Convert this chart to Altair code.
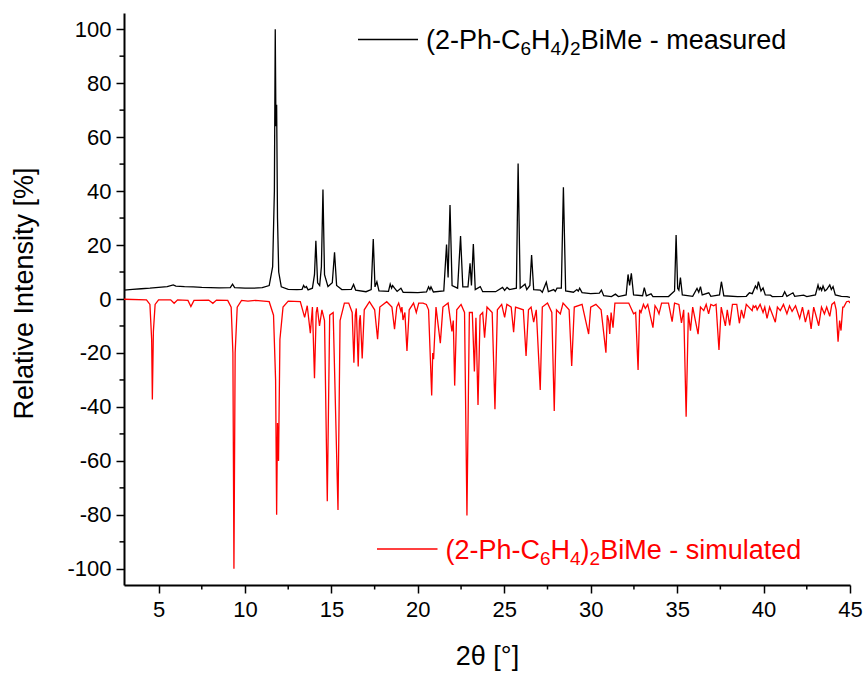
import altair as alt
import pandas as pd

# ---------------- data ----------------
meas_x = [3.0, 3.5, 4.0, 4.5, 5.0, 5.5, 5.85, 6.0, 6.5, 7.0, 7.5, 8.0, 8.5, 9.15, 9.28, 9.4,
          10.0, 10.5, 11.0, 11.4, 11.6, 11.7, 11.75, 11.79, 11.83, 11.88, 11.95, 12.1, 12.5,
          13.0, 13.3, 13.39, 13.47, 13.55, 13.65, 13.9, 14.02, 14.1, 14.2, 14.32, 14.42, 14.51,
          14.6, 14.8, 15.05, 15.18, 15.3, 15.6, 16.15, 16.28, 16.4, 17.0, 17.3, 17.42, 17.52,
          17.63, 17.75, 18.3, 18.4, 18.48, 18.54, 18.65, 18.8, 19.02, 19.15, 20.0, 20.5, 20.62,
          20.7, 20.76, 20.9, 21.5, 21.66, 21.75, 21.86, 21.98, 22.3, 22.47, 22.6, 22.9, 23.02,
          23.1, 23.21, 23.32, 23.61, 23.75, 24.5, 24.9, 25.02, 25.16, 25.3, 25.7, 25.8, 25.92,
          26.2, 26.3, 26.48, 26.58, 26.7, 27.08, 27.2, 27.43, 27.55, 27.86, 27.95, 28.05, 28.3,
          28.42, 28.55, 29.0, 29.2, 29.28, 29.36, 29.5, 30.0, 30.5, 30.62, 30.75, 31.2, 31.43,
          31.6, 32.05, 32.16, 32.25, 32.35, 32.48, 33.0, 33.1, 33.22, 33.49, 33.6, 34.5, 34.85,
          34.94, 35.03, 35.1, 35.19, 35.3, 35.9, 36.15, 36.25, 36.35, 36.45, 36.83, 36.95, 37.45,
          37.56, 37.7, 38.5, 39.0, 39.18, 39.35, 39.53, 39.62, 39.7, 39.85, 39.97, 40.1, 40.4,
          40.5, 41.1, 41.22, 41.35, 41.7, 41.8, 42.32, 42.5, 43.0, 43.15, 43.22, 43.29, 43.36,
          43.44, 43.55, 43.65, 43.83, 43.92, 44.02, 44.15, 44.5, 44.83, 45.0]
meas_y = [3.3, 3.6, 3.8, 4.0, 4.3, 4.6, 5.2, 4.8, 4.6, 4.5, 4.3, 4.2, 4.1, 4.2, 5.5, 4.2,
          4.0, 4.0, 4.2, 5.0, 12, 40, 100, 64, 72, 30, 10, 4.5, 3.6,
          3.5, 3.6, 5.0, 4.2, 4.6, 3.4, 4.0, 9, 21.6, 6, 5, 12, 40.6,
          9, 4.6, 6, 17.3, 5, 3.5, 3.6, 5.4, 3.3, 2.7, 3.5, 22.2, 4.5,
          6.4, 3.0, 2.8, 5.5, 4.0, 5.0, 4.0, 2.8, 4.0, 2.5, 2.4, 2.6, 4.5,
          3.5, 4.5, 2.6, 3.0, 20.2, 8, 34.8, 5, 4, 23.3, 4.5, 4.5, 13.2,
          5, 20.4, 3.5, 4.6, 2.7, 2.7, 4.3, 3.2, 4.3, 3.5, 4, 50.2, 4,
          5.5, 3.5, 5, 16.3, 3.5, 3.3, 2.5, 6.2, 2.7, 3.5, 2.8, 4, 4,
          41.4, 3, 2.5, 3.5, 2.9, 4, 2.4, 2.0, 2.2, 3.3, 1.2, 0.9, 1.8,
          0.9, 1.5, 9.1, 5, 9.5, 1.5, 1.2, 4.2, 1.2, 1.9, 0.9, 0.9, 3,
          23.7, 4, 3.3, 7.9, 1.5, 1.0, 3.9, 2.5, 4.6, 1.5, 2.3, 1.0, 1.5,
          6.4, 1.2, 0.9, 1.0, 2.3, 2.0, 4.8, 3.8, 6.4, 3, 4.1, 1.5, 1.4,
          0.9, 1.0, 2.7, 1.0, 2.3, 1.0, 1.4, 0.9, 1.5, 5.2, 3.5, 4.2, 3.2,
          4.8, 3, 3.5, 5.2, 3.5, 4.6, 1.5, 1.0, 0.9, 0.6]

sim_x = [3.0, 4.3, 4.5, 4.6, 4.64, 4.7, 4.8, 5.0, 5.7, 5.9, 6.1, 6.7, 6.87, 7.05, 7.9, 8.14,
         8.35, 9.0, 9.2, 9.3, 9.36, 9.43, 9.55, 9.8, 10.17, 10.6, 11.4, 11.65, 11.77, 11.83,
         11.88, 11.94, 12.02, 12.2, 12.5, 13.2, 13.45, 13.6, 13.78, 13.9, 14.02, 14.12, 14.18,
         14.31, 14.45, 14.6, 14.76, 14.9, 15.1, 15.38, 15.5, 15.75, 16.0, 16.2, 16.3, 16.38,
         16.44, 16.55, 16.62, 16.67, 16.78, 16.9, 17.2, 17.5, 17.67, 17.8, 18.2, 18.5, 18.65,
         18.78, 18.89, 19.02, 19.08, 19.14, 19.25, 19.37, 19.5, 19.75, 19.91, 20.05, 20.3,
         20.49, 20.62, 20.8, 20.86, 20.91, 21.05, 21.3, 21.45, 21.75, 21.97, 22.05, 22.13,
         22.25, 22.5, 22.7, 22.84, 22.98, 23.15, 23.27, 23.36, 23.48, 23.6, 23.75, 23.86, 24.0,
         24.3, 24.46, 24.6, 24.85, 25.02, 25.15, 25.4, 25.54, 25.65, 26.1, 26.26, 26.4, 26.55,
         26.7, 26.85, 27.08, 27.2, 27.5, 27.75, 27.89, 28.02, 28.24, 28.4, 28.75, 28.9, 29.05,
         29.5, 29.88, 30.0, 30.3, 30.6, 30.88, 30.96, 31.04, 31.1, 31.18, 31.29, 31.4, 32.2,
         32.48, 32.6, 32.74, 32.83, 32.91, 33.05, 33.16, 33.3, 33.6, 33.72, 33.84, 33.95, 34.1,
         34.5, 34.71, 34.85, 35.1, 35.25, 35.38, 35.52, 35.65, 35.77, 35.9, 36.21, 36.35, 36.54,
         36.68, 36.82, 36.95, 37.11, 37.25, 37.42, 37.55, 37.79, 37.9, 38.04, 38.2, 38.45, 38.6,
         38.72, 38.85, 39.0, 39.34, 39.4, 39.47, 39.55, 39.63, 39.8, 39.97, 40.07, 40.2, 40.35,
         40.68, 40.8, 40.97, 41.15, 41.35, 41.5, 41.65, 41.85, 42.09, 42.25, 42.42, 42.6, 42.75,
         42.9, 43.19, 43.35, 43.52, 43.65, 43.83, 43.95, 44.1, 44.2, 44.31, 44.4, 44.48, 44.58,
         44.64, 44.8, 44.93, 45.0]
sim_y = [-0.1, -0.3, -2, -15, -37.2, -12, -2, -0.3, -0.3, -1.6, -0.3, -0.5, -2.8, -0.5, -0.4, -1.6,
         -0.4, -0.5, -3, -20, -100, -20, -3, -0.5, -0.8, -0.5, -1, -6, -30, -80,
         -46, -60, -15, -3, -0.8, -1, -6.8, -2.5, -12.7, -3, -29.4, -5, -3,
         -10, -4, -8, -75, -6, -5, -78.2, -8, -1.5, -1.5, -5, -23.6, -6,
         -3.5, -25, -8, -6, -22, -4, -1, -4, -14.9, -3, -1, -3, -11.2,
         -3, -1.5, -4.5, -3, -7.8, -5, -19.3, -4, -1.5, -5, -1.5, -1.5,
         -2, -4, -35.8, -20, -22.3, -3, -16.4, -3, -1.5, -12, -8, -32.1,
         -4, -2, -5, -80.2, -5, -5, -26.9, -7, -39.3, -6, -5, -14.3, -3,
         -5, -40.9, -4, -2, -6.8, -2, -3, -12.3, -3, -4, -21.1, -4, -3,
         -8.6, -4, -33.7, -3, -1.5, -5, -41.5, -4, -5.5, -1.5, -4, -24.8, -3,
         -2, -13, -3, -2, -4, -19.9, -6, -8, -13, -5, -10.6, -1.5, -1.5,
         -5.5, -5, -26.3, -4, -5, -2, -3.5, -2, -10.6, -2.5, -3.7, -5.5, -1.5,
         -1.5, -8.4, -1.5, -2, -8.9, -4, -43.6, -5, -11.7, -3, -13, -3, -4.3,
         -2, -5.5, -2, -2.5, -2, -18.9, -3, -10, -4, -9.8, -2, -2, -9,
         -4, -7.2, -2, -4.3, -2.5, -3.1, -2.5, -4, -2, -5, -3, -7.2, -3,
         -8.6, -3, -4.3, -2, -5.5, -2.5, -4.6, -2.5, -7.2, -3, -8.6, -4, -11.1,
         -3, -9.9, -3, -5.5, -3, -6.4, -2, -1.2, -4, -15.8, -8, -11.7, -3,
         -3, -1, -0.8, -1.5]

x_ticks = [5, 10, 15, 20, 25, 30, 35, 40, 45]
x_minor = [7.5, 12.5, 17.5, 22.5, 27.5, 32.5, 37.5, 42.5]
y_ticks = [-100, -80, -60, -40, -20, 0, 20, 40, 60, 80, 100]
y_minor = [-90, -70, -50, -30, -10, 10, 30, 50, 70, 90]

legend_measured = "measured"
legend_simulated = "simulated"

# ---------------- layout ----------------
W, H = 726, 572
FONT = "Liberation Sans"
MAIN, SUB, SUBDY = 27, 19, 6

meas_df = pd.DataFrame({"x": meas_x, "y": meas_y})
sim_df = pd.DataFrame({"x": sim_x, "y": sim_y})
xmin_df = pd.DataFrame({"x": x_minor})
ymin_df = pd.DataFrame({"y": y_minor})
one = pd.DataFrame({"a": [0]})

xscale = alt.Scale(domain=[3, 45], nice=False, zero=False)
yscale = alt.Scale(domain=[-106, 106], nice=False, zero=False)

common_axis = dict(grid=False, domainColor="black", domainWidth=2, tickColor="black",
                   tickWidth=1.5, tickSize=8, labelColor="black", titleColor="black",
                   labelFont=FONT, titleFont=FONT, labelFontSize=22, titleFontSize=27,
                   titleFontWeight="normal", labelOverlap=False, labelFlush=False,
                   labelExpr="replace(datum.label, '\u2212', '-')")

xaxis = alt.Axis(values=x_ticks, title="2θ [°]", labelPadding=6, titleX=W / 2, titleY=79,
                 titleBaseline="alphabetic", titleAlign="center", **common_axis)
yaxis = alt.Axis(values=y_ticks, title="Relative Intensity [%]", labelPadding=5,
                 titleX=-92, titleY=H / 2 - 6, titleAngle=-90, titleBaseline="alphabetic",
                 titleAlign="center", **common_axis)

X = alt.X("x:Q", scale=xscale, axis=xaxis, title="2θ [°]")
Y = alt.Y("y:Q", scale=yscale, axis=yaxis, title="Relative Intensity [%]")

measured = alt.Chart(meas_df).mark_line(color="black", strokeWidth=1.3, clip=True).encode(x=X, y=Y)
simulated = alt.Chart(sim_df).mark_line(color="#ff0000", strokeWidth=1.3, clip=True).encode(x=X, y=Y)
xminor = alt.Chart(xmin_df).mark_rule(color="black", strokeWidth=1.5).encode(
    x=X, y=alt.value(H), y2=alt.value(H + 4.5))
yminor = alt.Chart(ymin_df).mark_rule(color="black", strokeWidth=1.5).encode(
    y=Y, x=alt.value(0), x2=alt.value(-4.5))

WIDTHS = {'(': 333, '2': 556, '-': 333, 'P': 667, 'h': 556, 'C': 722, '6': 556, 'H': 722,
          '4': 556, ')': 333, 'B': 667, 'i': 222, 'M': 833, 'e': 556, ' ': 278, 'm': 833,
          'a': 556, 's': 500, 'u': 556, 'r': 333, 'd': 556, 'l': 222, 't': 278}


def legend_entry(line_x0, line_x1, line_y, text_x, text_y, suffix, color):
    layers = [alt.Chart(one).mark_rule(color=color, strokeWidth=1.3).encode(
        x=alt.value(line_x0), x2=alt.value(line_x1), y=alt.value(line_y))]
    pieces = [("(2-Ph-C", False), ("6", True), ("H", False), ("4", True), (")", False),
              ("2", True), ("BiMe - " + suffix, False)]
    x = text_x
    for txt, sub in pieces:
        size = SUB if sub else MAIN
        yy = text_y + (SUBDY if sub else 0)
        layers.append(alt.Chart(one).mark_text(align="left", baseline="alphabetic", font=FONT,
                                               fontSize=size, color=color).encode(
            x=alt.value(x), y=alt.value(yy), text=alt.value(txt)))
        x += sum(WIDTHS[c] for c in txt) * size / 1000.0
    return layers


leg1 = legend_entry(234, 294, 26.5, 302, 36, legend_measured, "black")
leg2 = legend_entry(253, 313.5, 536, 321.5, 545.5, legend_simulated, "#ff0000")

chart = alt.layer(measured, simulated, xminor, yminor, *leg1, *leg2).properties(
    width=W, height=H,
    padding={"left": 124, "top": 13, "right": 14, "bottom": 88},
    autosize=alt.AutoSizeParams(type="none"),
    background="white",
).configure_view(stroke=None)

chart.save("out.html", embed_options={"renderer": "svg", "actions": False})
